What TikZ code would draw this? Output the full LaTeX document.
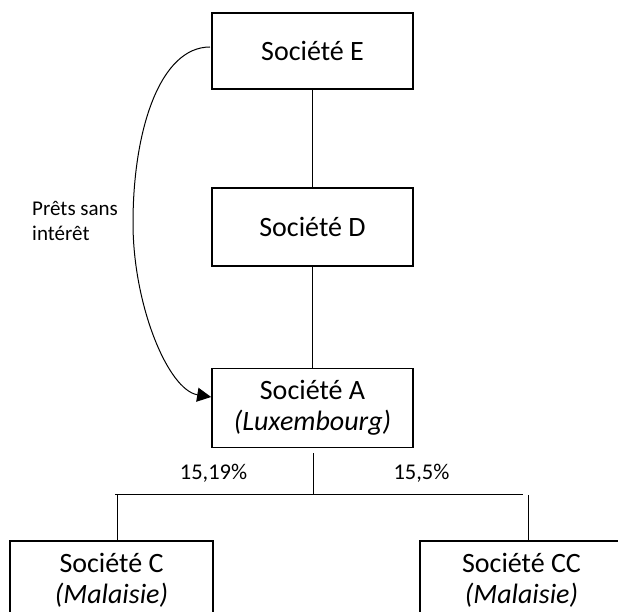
\documentclass[tikz,border=0pt]{standalone}
\usepackage{fontspec}
\setmainfont{Carlito}
\usetikzlibrary{arrows.meta}
\begin{document}
\begin{tikzpicture}[x=1pt,y=-1pt,
  box/.style={draw,line width=1.7pt,minimum width=201pt,minimum height=78pt,inner sep=0pt,align=center,font=\fontsize{28}{31}\selectfont},
  link/.style={draw,line width=1pt},
  lbl/.style={inner sep=0pt,font=\fontsize{22.5}{26}\selectfont}]
\useasboundingbox (0,0) rectangle (618,612);
\node[box,minimum height=76pt] (E) at (312.5,51) {Société E};
\node[box] (D) at (312.5,227) {Société D};
\node[box,minimum height=79pt] (A) at (312.5,408) {Société A\\\textit{(Luxembourg)}};
\node[box,minimum width=203pt,anchor=north] (C) at (111.5,540) {Société C\\\textit{(Malaisie)}};
\node[box,minimum width=203pt,anchor=north] (CC) at (521.5,540) {Société CC\\\textit{(Malaisie)}};
\coordinate (Abot) at (313.5,453);
\coordinate (J) at (313.5,494);
\coordinate (HL) at (115,494);
\coordinate (HR) at (523,494);
\coordinate (VL) at (117,494);
\coordinate (VR) at (528,495);
\draw[link] (E) -- (D);
\draw[link] (D) -- (A);
\draw[link] (Abot) -- (J);
\draw[link] (HL) -- (HR);
\draw[link] (VL) -- (VL |- C.north);
\draw[link] (VR) -- (VR |- CC.north);
\node[lbl] (p1) at (213.5,473) {15,19\%};
\node[lbl] (p2) at (421.5,473) {15,5\%};
\coordinate (Es) at (210,47);
\coordinate (Ae) at ([yshift=11pt]A.west);
\draw[line width=1pt,-{Triangle[length=14pt,width=14pt]}] (Es) .. controls (160,47) and (133,130) .. (133,223) .. controls (133,305) and (168,390) .. (Ae);
\node[inner sep=0pt,anchor=west,align=left,font=\fontsize{21}{25}\selectfont] (L) at (32,220.5) {Prêts sans\\intérêt};
\end{tikzpicture}
\end{document}
